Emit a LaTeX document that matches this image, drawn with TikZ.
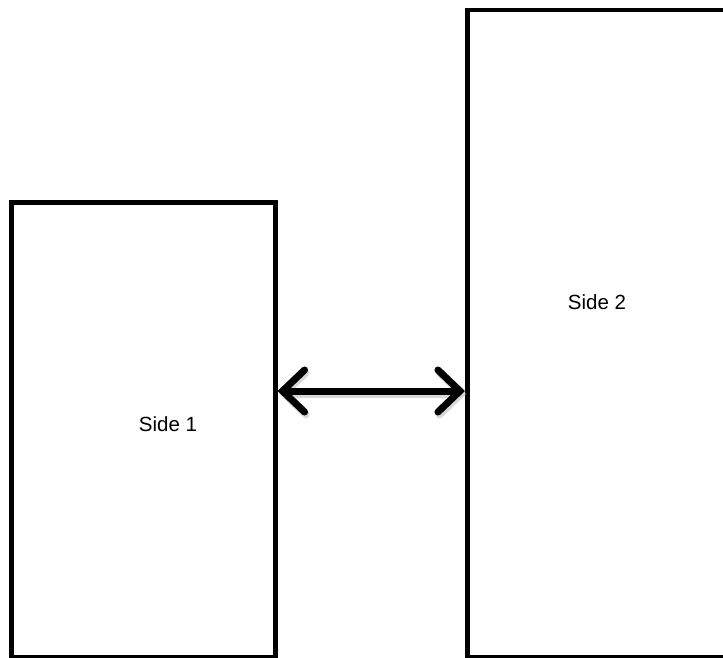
\documentclass[tikz,border=0pt]{standalone}
\usepackage{fontspec}
\setmainfont{Liberation Sans}
\usetikzlibrary{arrows.meta}
\tikzset{
  panel/.style={draw=black, line width=4.5pt, fill=white, inner sep=0pt},
  label/.style={font=\fontsize{20.5}{22}\selectfont, inner sep=0pt},
  link/.style={line width=7pt, line cap=round,
    {Straight Barb[length=22pt,width=42pt,line cap=round]}-{Straight Barb[length=22pt,width=42pt,line cap=round]}},
}
\begin{document}
\begin{tikzpicture}[x=1pt,y=-1pt]
  \useasboundingbox (0,0) rectangle (723,658);
  % two panels
  \node[panel, minimum width=264pt, minimum height=455pt, anchor=north west] (s1) at (9,200) {};
  \node[panel, minimum width=265pt, minimum height=647pt, anchor=north west] (s2) at (465,8) {};
  \node[label] (t1) at (168,424) {Side 1};
  \node[label] (t2) at (597,302) {Side 2};
  % double-headed link with a soft shadow
  \coordinate (a) at (s1.east |- 0,391);
  \coordinate (b) at (s2.west |- 0,391);
  \draw[link, black!30, opacity=0.5, transform canvas={shift={(1.5pt,-3pt)}}] (a) -- (b);
  \draw[link] (a) -- (b);
\end{tikzpicture}
\end{document}
